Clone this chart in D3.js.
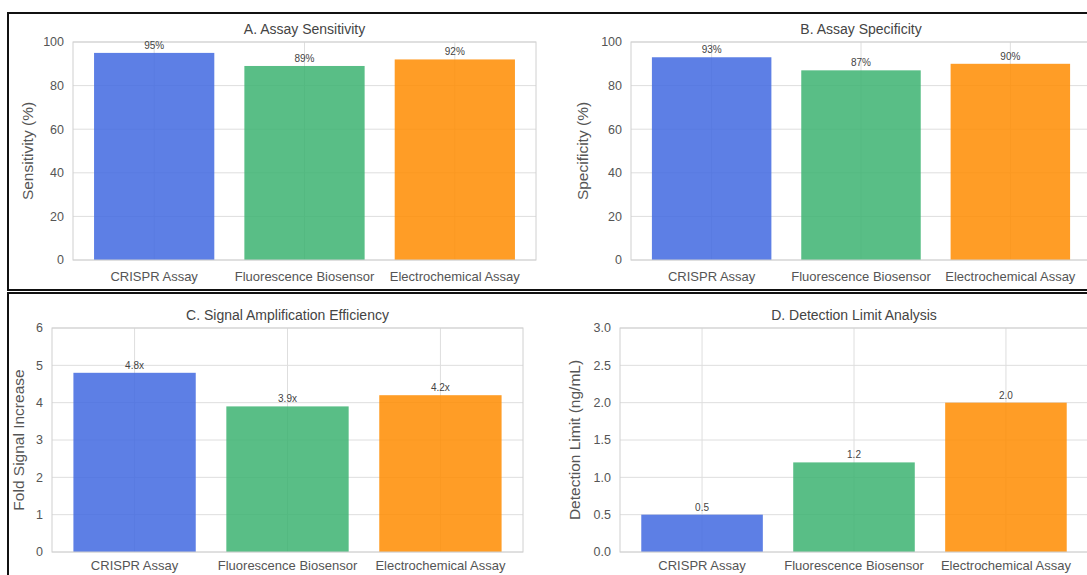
<!DOCTYPE html>
<html>
<head>
<meta charset="utf-8">
<script src="https://cdn.jsdelivr.net/npm/d3@7"></script>
<style>
  body { margin: 0; background: #fff; }
  svg { display: block; font-family: "Liberation Sans", Arial, sans-serif; }
</style>
</head>
<body>
<div id="chart"></div>
<script>
// data
const categories = ["CRISPR Assay", "Fluorescence Biosensor", "Electrochemical Assay"];
const sensitivity = [95, 89, 92];
const specificity = [93, 87, 90];
const amplification = [4.8, 3.9, 4.2];
const detectionLimit = [0.5, 1.2, 2.0];
const barColors = ["#4169E1", "#3CB371", "#FF8C00"];

const svgWidth = 1087;
const svgHeight = 575;

const svg = d3.select("#chart")
  .append("svg")
  .attr("width", svgWidth)
  .attr("height", svgHeight);

// panel settings (plot area in page pixels)
const panels = [
  { title: "A. Assay Sensitivity", ylabel: "Sensitivity (%)", values: sensitivity,
    ymax: 100, ticks: [0, 20, 40, 60, 80, 100], fmt: d => d, lab: d => d + "%",
    x0: 73, x1: 536, y0: 42, y1: 260, labX: 28, xlabOff: 21 },
  { title: "B. Assay Specificity", ylabel: "Specificity (%)", values: specificity,
    ymax: 100, ticks: [0, 20, 40, 60, 80, 100], fmt: d => d, lab: d => d + "%",
    x0: 631, x1: 1091, y0: 42, y1: 260, labX: 583, xlabOff: 21 },
  { title: "C. Signal Amplification Efficiency", ylabel: "Fold Signal Increase", values: amplification,
    ymax: 6, ticks: [0, 1, 2, 3, 4, 5, 6], fmt: d => d, lab: d => d.toFixed(1) + "x",
    x0: 52, x1: 523, y0: 328, y1: 552, labX: 19, xlabOff: 18 },
  { title: "D. Detection Limit Analysis", ylabel: "Detection Limit (ng/mL)", values: detectionLimit,
    ymax: 3, ticks: [0, 0.5, 1, 1.5, 2, 2.5, 3], fmt: d => d.toFixed(1), lab: d => d.toFixed(1),
    x0: 620, x1: 1088, y0: 328, y1: 552, labX: 575, xlabOff: 18 }
];

panels.forEach(p => {
  const g = svg.append("g");

  // matplotlib-like x limits: bars at 0,1,2 with width 0.8, margins
  const xScale = d3.scaleLinear([-0.54, 2.54], [p.x0, p.x1]);
  const yScale = d3.scaleLinear([0, p.ymax], [p.y1, p.y0]);
  const bw = xScale(0.8) - xScale(0);

  // horizontal grid
  g.append("g")
    .selectAll("line")
    .data(p.ticks)
    .enter()
    .append("line")
    .attr("x1", p.x0).attr("x2", p.x1)
    .attr("y1", d => yScale(d)).attr("y2", d => yScale(d))
    .attr("stroke", "#dedede")
    .attr("stroke-width", 1);

  // vertical grid at categories
  g.append("g")
    .selectAll("line")
    .data(categories)
    .enter()
    .append("line")
    .attr("x1", (d, i) => xScale(i)).attr("x2", (d, i) => xScale(i))
    .attr("y1", p.y0).attr("y2", p.y1)
    .attr("stroke", "#dedede")
    .attr("stroke-width", 1);

  // bars
  g.selectAll("rect.bar")
    .data(p.values)
    .enter()
    .append("rect")
    .attr("class", "bar")
    .attr("x", (d, i) => xScale(i) - bw / 2)
    .attr("width", bw)
    .attr("y", d => yScale(d))
    .attr("height", d => yScale(0) - yScale(d))
    .attr("fill", (d, i) => barColors[i])
    .attr("fill-opacity", 0.85);

  // spines
  g.append("rect")
    .attr("x", p.x0).attr("y", p.y0)
    .attr("width", p.x1 - p.x0).attr("height", p.y1 - p.y0)
    .attr("fill", "none")
    .attr("stroke", "#d0d0d0")
    .attr("stroke-width", 1);

  // y tick labels
  g.selectAll("text.ytick")
    .data(p.ticks)
    .enter()
    .append("text")
    .attr("class", "ytick")
    .attr("x", p.x0 - 9)
    .attr("y", d => yScale(d))
    .attr("dy", "0.35em")
    .attr("text-anchor", "end")
    .style("font-size", "12.5px")
    .style("fill", "#555")
    .text(p.fmt);

  // x tick labels
  g.selectAll("text.xtick")
    .data(categories)
    .enter()
    .append("text")
    .attr("class", "xtick")
    .attr("x", (d, i) => xScale(i))
    .attr("y", p.y1 + p.xlabOff)
    .attr("text-anchor", "middle")
    .style("font-size", "13px")
    .style("fill", "#555")
    .text(d => d);

  // value labels
  g.selectAll("text.val")
    .data(p.values)
    .enter()
    .append("text")
    .attr("class", "val")
    .attr("x", (d, i) => xScale(i))
    .attr("y", d => yScale(d) - 4)
    .attr("text-anchor", "middle")
    .style("font-size", "10px")
    .style("fill", "#444")
    .text(p.lab);

  // title
  g.append("text")
    .attr("x", (p.x0 + p.x1) / 2)
    .attr("y", p.y0 - 8)
    .attr("text-anchor", "middle")
    .style("font-size", "14px")
    .style("fill", "#444")
    .text(p.title);

  // y label
  g.append("text")
    .attr("transform", `translate(${p.labX},${(p.y0 + p.y1) / 2}) rotate(-90)`)
    .attr("dy", "0.35em")
    .attr("text-anchor", "middle")
    .style("font-size", "15.5px")
    .style("fill", "#555")
    .text(p.ylabel);
});

// black frames around the two rows
svg.append("rect")
  .attr("x", 8).attr("y", 13)
  .attr("width", 1100).attr("height", 277)
  .attr("fill", "none")
  .attr("stroke", "#111")
  .attr("stroke-width", 2);

svg.append("rect")
  .attr("x", 8).attr("y", 293)
  .attr("width", 1100).attr("height", 300)
  .attr("fill", "none")
  .attr("stroke", "#111")
  .attr("stroke-width", 2);
</script>
</body>
</html>
